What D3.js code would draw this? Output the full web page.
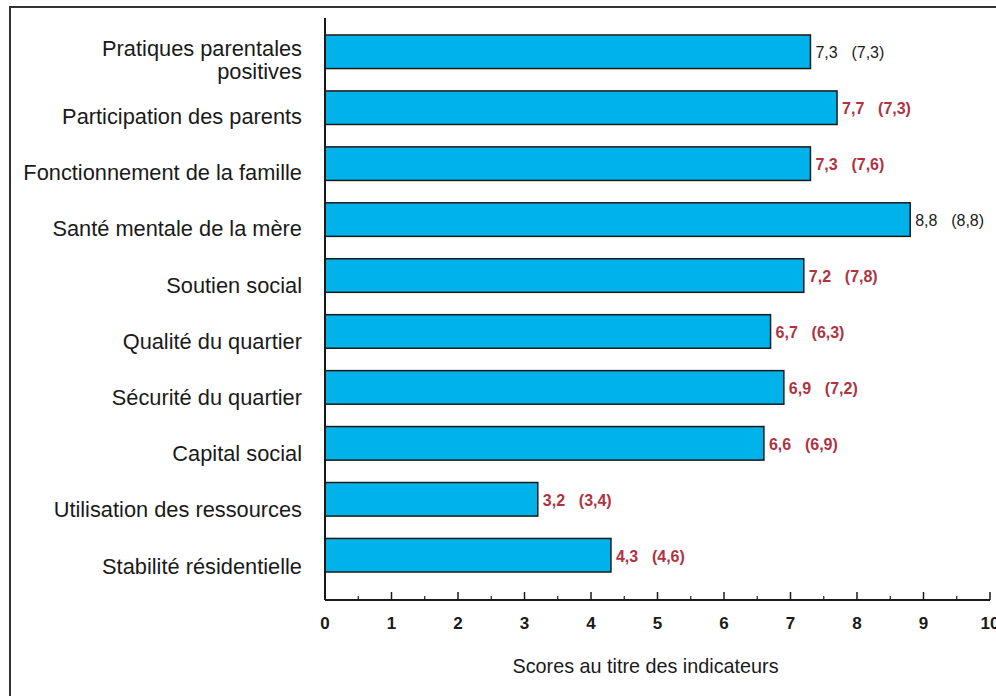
<!DOCTYPE html>
<html><head><meta charset="utf-8">
<script src="https://cdn.jsdelivr.net/npm/d3@7"></script>
<style>
body{margin:0;background:#fff;}
svg{display:block;font-family:"Liberation Sans",Arial,sans-serif;}
</style></head>
<body><svg id="c" width="996" height="696"></svg>
<script>
const categories = [
  ["Pratiques parentales","positives"],
  ["Participation des parents"],
  ["Fonctionnement de la famille"],
  ["Santé mentale de la mère"],
  ["Soutien social"],
  ["Qualité du quartier"],
  ["Sécurité du quartier"],
  ["Capital social"],
  ["Utilisation des ressources"],
  ["Stabilité résidentielle"]
];
const scores = [7.3, 7.7, 7.3, 8.8, 7.2, 6.7, 6.9, 6.6, 3.2, 4.3];
const comparison = [7.3, 7.3, 7.6, 8.8, 7.8, 6.3, 7.2, 6.9, 3.4, 4.6];
const highlighted = [false, true, true, false, true, true, true, true, true, true];
const xTicks = [0,1,2,3,4,5,6,7,8,9,10];
const axisTitle = "Scores au titre des indicateurs";

const svg = d3.select("#c");
const fmt = v => d3.format(".1f")(v).replace(".", ",");
const keys = categories.map((c,i)=>i);

// frame
svg.append("rect").attr("x",10).attr("y",7).attr("width",1000).attr("height",720)
  .attr("fill","none").attr("stroke","#333").attr("stroke-width",2);

const x = d3.scaleLinear().domain([0,10]).range([325,990]);
const y = d3.scaleBand().domain(keys).range([23.8,583.2]).paddingInner(0.4).paddingOuter(0.2);
const yLab = d3.scalePoint().domain(keys).range([60,566]);

// bars
svg.append("g").selectAll("rect").data(scores).join("rect")
  .attr("x", x(0)).attr("y",(d,i)=>y(i))
  .attr("width", d=>x(d)-x(0)).attr("height", y.bandwidth())
  .attr("fill","#00b2ea").attr("stroke","#1a1a1a").attr("stroke-width",1.5);

// value labels
const vl = svg.append("g").selectAll("g").data(scores).join("g")
  .attr("transform",(d,i)=>`translate(${x(d)+5},${y(i)+y.bandwidth()/2+1})`)
  .attr("fill",(d,i)=>highlighted[i]?"#b0333f":"#1a1a1a")
  .attr("font-weight",(d,i)=>highlighted[i]?"bold":"normal")
  .attr("font-size",16);
vl.append("text").attr("dy","0.35em").text(d=>fmt(d));
vl.append("text").attr("x",36).attr("dy","0.35em").text((d,i)=>"("+fmt(comparison[i])+")");

// category labels
const cl = svg.append("g").selectAll("text").data(categories).join("text")
  .attr("text-anchor","end").attr("font-size",21.8).attr("fill","#1a1a1a")
  .attr("x",302)
  .attr("y",(d,i)=>yLab(i) - (d.length-1)*11.5);
cl.each(function(d){
  const t = d3.select(this);
  d.forEach((line,j)=>{
    t.append("tspan").attr("x",302).attr("dy", j===0?"0.35em":"1.05em").text(line);
  });
});

// x axis
const ax = svg.append("g");
ax.append("line").attr("x1",x(0)).attr("x2",x(10)).attr("y1",600).attr("y2",600)
  .attr("stroke","#1a1a1a").attr("stroke-width",2);
ax.append("line").attr("x1",x(0)).attr("x2",x(0)).attr("y1",18).attr("y2",600)
  .attr("stroke","#1a1a1a").attr("stroke-width",2);
ax.selectAll("line.maj").data(xTicks).join("line").attr("class","maj")
  .attr("x1",d=>x(d)).attr("x2",d=>x(d)).attr("y1",600).attr("y2",592)
  .attr("stroke","#1a1a1a").attr("stroke-width",1.5);
ax.selectAll("line.min").data(xTicks.slice(0,-1)).join("line").attr("class","min")
  .attr("x1",d=>x(d+0.5)).attr("x2",d=>x(d+0.5)).attr("y1",600).attr("y2",596)
  .attr("stroke","#1a1a1a").attr("stroke-width",1.2);
ax.selectAll("text").data(xTicks).join("text")
  .attr("x",d=>x(d)).attr("y",623).attr("dy","0.35em").attr("text-anchor","middle")
  .attr("font-weight","bold").attr("font-size",17).attr("fill","#1a1a1a").text(d=>d);

svg.append("text").attr("x",645.5).attr("y",666).attr("dy","0.35em").attr("text-anchor","middle")
  .attr("font-size",19.8).attr("fill","#1a1a1a").text(axisTitle);
</script></body></html>
